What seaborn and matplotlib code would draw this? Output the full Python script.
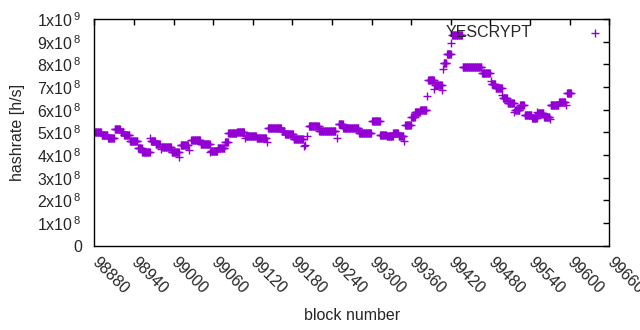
import numpy as np
import pandas as pd
import seaborn as sns
import matplotlib.pyplot as plt

sns.set_style("white")
plt.rcParams['font.family'] = ['Liberation Sans', 'DejaVu Sans']
plt.rcParams['mathtext.default'] = 'regular'

# runs of blocks with the same hashrate (in units of 1e8 h/s)
run_start = [98880, 98891, 98901, 98911, 98920, 98925, 98934, 98946, 98953, 98965,
             98966, 98973, 98981, 98983, 98997, 99009, 99011, 99024, 99027, 99041,
             99056, 99057, 99067, 99078, 99083, 99096, 99109, 99110, 99126, 99142,
             99143, 99164, 99169, 99182, 99197, 99199, 99202, 99205, 99221, 99247,
             99250, 99257, 99281, 99301, 99313, 99323, 99333, 99341, 99349, 99351,
             99360, 99366, 99374, 99384, 99386, 99395, 99396, 99407, 99408, 99409,
             99414, 99421, 99422, 99438, 99467, 99481, 99482, 99488, 99498, 99499,
             99506, 99516, 99517, 99525, 99532, 99543, 99551, 99552, 99561, 99570,
             99571, 99584, 99595, 99596]
run_end = [98890, 98900, 98910, 98919, 98924, 98933, 98945, 98952, 98964, 98965,
           98972, 98979, 98981, 98996, 99008, 99009, 99022, 99024, 99040, 99055,
           99056, 99066, 99077, 99082, 99095, 99107, 99109, 99125, 99140, 99142,
           99163, 99168, 99181, 99196, 99197, 99199, 99202, 99220, 99245, 99247,
           99256, 99280, 99299, 99312, 99322, 99332, 99340, 99348, 99349, 99359,
           99365, 99373, 99383, 99384, 99394, 99395, 99406, 99407, 99408, 99413,
           99420, 99421, 99437, 99466, 99479, 99481, 99487, 99497, 99498, 99505,
           99515, 99516, 99524, 99531, 99542, 99550, 99551, 99560, 99569, 99570,
           99583, 99593, 99595, 99602]
run_rate = [5.03, 4.88, 4.76, 5.15, 5.00, 4.88, 4.62, 4.30, 4.12, 4.74,
            4.60, 4.47, 4.25, 4.37, 4.15, 3.93, 4.44, 4.22, 4.66, 4.47,
            4.12, 4.18, 4.32, 4.59, 4.96, 5.03, 4.74, 4.85, 4.76, 4.59,
            5.18, 5.05, 4.91, 4.71, 4.40, 4.45, 4.85, 5.29, 5.06, 4.74,
            5.35, 5.18, 4.96, 5.50, 4.88, 4.84, 4.95, 4.83, 4.63, 5.31,
            5.69, 5.91, 5.99, 6.59, 7.31, 6.90, 7.09, 6.87, 7.78, 8.05,
            8.46, 8.95, 9.29, 7.90, 7.60, 7.28, 7.12, 6.94, 6.65, 6.50,
            6.28, 5.91, 5.99, 6.21, 5.77, 5.62, 5.91, 5.84, 5.69, 5.58,
            6.20, 6.35, 6.20, 6.75]

xticks = np.arange(98880, 99661, 60)
yticks = np.arange(0, 1.01e9, 1e8)
ytick_labels = ['0'] + ['%dx10$^{\\,8}$' % i for i in range(1, 10)] + ['1x10$^{\\,9}$']

# one point per block
blocks = []
rates = []
for s, e, r in zip(run_start, run_end, run_rate):
    for b in range(s, e + 1):
        blocks.append(b)
        rates.append(r * 1e8)
df = pd.DataFrame({"block": blocks, "hashrate": rates})

fig, ax = plt.subplots(figsize=(6.4, 3.3), dpi=100)
fig.subplots_adjust(left=0.1473, right=0.952, bottom=0.2555, top=0.9424)

sns.scatterplot(data=df, x="block", y="hashrate", marker="+", color="#9400D3",
                s=32, linewidth=1.0, label="YESCRYPT", ax=ax)

ax.set_xlim(98880, 99660)
ax.set_ylim(0, 1e9)
ax.set_xticks(xticks)
ax.set_xticklabels([str(t) for t in xticks], rotation=-45, ha='left', va='center',
                   rotation_mode='anchor', fontsize=11.5)
ax.set_yticks(yticks)
ax.set_yticklabels(ytick_labels, fontsize=11.5)
ax.tick_params(direction='in', top=True, right=True, length=4, width=1, color='black')
ax.tick_params(axis='x', pad=10)
ax.tick_params(axis='y', pad=9)
for sp in ax.spines.values():
    sp.set_color('black')
    sp.set_linewidth(1)

ax.set_xlabel("block number", fontsize=11.5, va='center')
ax.set_ylabel("hashrate [h/s]", fontsize=11.5, va='center')
ax.xaxis.set_label_coords(0.5, -0.31)
ax.yaxis.set_label_coords(-0.150, 0.5)

ax.legend(loc='upper right', bbox_to_anchor=(627 / 640, 1 - 25 / 330),
          bbox_transform=fig.transFigure, frameon=False, markerfirst=False,
          handlelength=4, handletextpad=2, borderpad=0, borderaxespad=0,
          scatterpoints=1, fontsize=11.5)

plt.savefig("out.png", dpi=100)
